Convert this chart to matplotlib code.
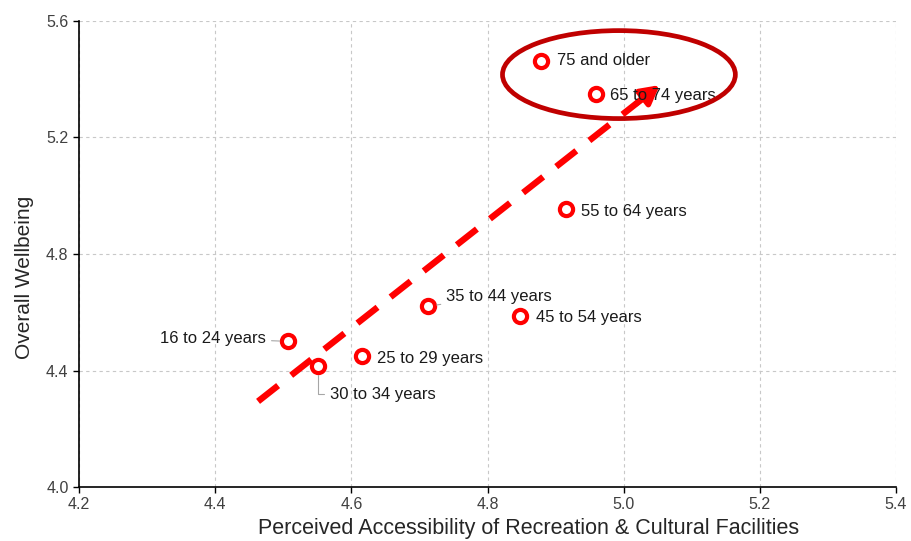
import matplotlib
matplotlib.use("Agg")
import matplotlib.pyplot as plt
from matplotlib.patches import Ellipse

plt.rcParams['font.family'] = ['Liberation Sans', 'DejaVu Sans']

# age groups: x = perceived accessibility, y = overall wellbeing
groups = ["16 to 24 years", "25 to 29 years", "30 to 34 years", "35 to 44 years",
          "45 to 54 years", "55 to 64 years", "65 to 74 years", "75 and older"]
access = [4.507, 4.615, 4.551, 4.713, 4.847, 4.916, 4.959, 4.878]
wellbeing = [4.500, 4.449, 4.414, 4.621, 4.586, 4.954, 5.349, 5.463]

# label offsets in pixels (dx, dy), alignment, leader line
label_pos = {
    "16 to 24 years": (-22, 3, "right", "arc3"),
    "25 to 29 years": (15, -2, "left", None),
    "30 to 34 years": (12, -28, "left", "angle,angleA=0,angleB=90,rad=0"),
    "35 to 44 years": (18, 10, "left", "arc3"),
    "45 to 54 years": (16, -1, "left", None),
    "55 to 64 years": (15, -2, "left", None),
    "65 to 74 years": (14, -1, "left", None),
    "75 and older": (16, 0, "left", None),
}

# trend arrow start / end
trend_x = [4.463, 5.053]
trend_y = [4.294, 5.380]

# highlight ellipse
ell_center = (4.993, 5.416)
ell_w, ell_h = 0.342, 0.302

fig = plt.figure(figsize=(9.12, 5.41), dpi=100)
ax = fig.add_axes([0.0866, 0.0998, 0.8959, 0.8614])

ax.set_xlim(4.2, 5.4)
ax.set_ylim(4.0, 5.6)
ax.set_xticks([4.2, 4.4, 4.6, 4.8, 5.0, 5.2, 5.4])
ax.set_yticks([4.0, 4.4, 4.8, 5.2, 5.6])
ax.set_xticklabels(["%.1f" % v for v in ax.get_xticks()])
ax.set_yticklabels(["%.1f" % v for v in ax.get_yticks()])
ax.tick_params(labelsize=11.5, labelcolor="#404040", length=4, width=1, color="black")

ax.grid(True, linestyle=(0, (3, 3)), color="#c8c8c8", linewidth=0.8)
ax.set_axisbelow(True)
for s in ["top", "right"]:
    ax.spines[s].set_visible(False)
ax.spines["left"].set_linewidth(1.2)
ax.spines["bottom"].set_linewidth(1.2)

ax.set_xlabel("Perceived Accessibility of Recreation & Cultural Facilities",
              fontsize=15.5, color="#262626")
ax.set_ylabel("Overall Wellbeing", fontsize=15, color="#262626")
ax.xaxis.set_label_coords(0.55, -0.067)
ax.yaxis.set_label_coords(-0.055, 0.45)

# dashed trend line with a solid head
dx = trend_x[1] - trend_x[0]
dy = trend_y[1] - trend_y[0]
ax.plot([trend_x[0], trend_x[1] - 0.03 * dx], [trend_y[0], trend_y[1] - 0.03 * dy],
        color="red", lw=4.6, dashes=(4, 2.6), solid_capstyle="butt",
        dash_capstyle="butt", zorder=3)
ax.annotate("", xy=(trend_x[1], trend_y[1]),
            xytext=(trend_x[1] - 0.06 * dx, trend_y[1] - 0.06 * dy),
            arrowprops=dict(arrowstyle="-|>,head_length=1.1,head_width=0.6",
                            color="red", lw=4, shrinkA=0, shrinkB=0), zorder=3)

ax.plot(access, wellbeing, "o", ms=9.5, mfc="white", mec="red", mew=3,
        linestyle="none", zorder=4)

for g, x, y in zip(groups, access, wellbeing):
    ox, oy, ha, conn = label_pos[g]
    props = None
    if conn is not None:
        props = dict(arrowstyle="-", color="#a6a6a6", lw=0.8,
                     connectionstyle=conn, shrinkA=2, shrinkB=6)
    ax.annotate(g, xy=(x, y), xytext=(ox, oy), textcoords="offset pixels",
                ha=ha, va="center", fontsize=12, color="#1a1a1a",
                arrowprops=props, zorder=5)

ax.add_patch(Ellipse(ell_center, ell_w, ell_h, fill=False,
                     edgecolor="#c00000", lw=3.4, zorder=6))

fig.savefig("out.png", dpi=100)
